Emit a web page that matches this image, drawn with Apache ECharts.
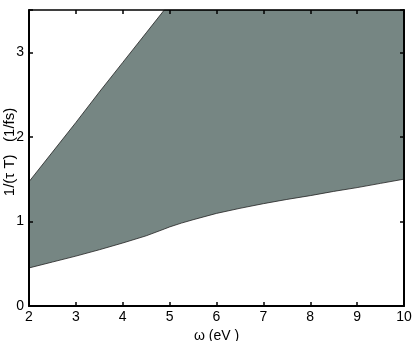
<!DOCTYPE html>
<html>
<head>
<meta charset="utf-8">
<script src="https://cdn.jsdelivr.net/npm/echarts@6/dist/echarts.min.js"></script>
<style>html,body{margin:0;padding:0;background:#fff;}#c{width:415px;height:341px;}</style>
</head>
<body>
<div id="c"></div>
<script>
var omega = [2, 2.5, 3, 3.5, 4, 4.5, 4.885, 5, 5.25, 5.5, 6, 6.5, 7, 7.5, 8, 8.5, 9, 9.5, 10];
var upperBound = [1.47, 1.82, 2.17, 2.53, 2.88, 3.23, 3.5, 3.5, 3.5, 3.5, 3.5, 3.5, 3.5, 3.5, 3.5, 3.5, 3.5, 3.5, 3.5];
var lowerBound = [0.45, 0.52, 0.59, 0.665, 0.745, 0.83, 0.91, 0.935, 0.98, 1.02, 1.095, 1.155, 1.21, 1.26, 1.305, 1.355, 1.40, 1.45, 1.50];
var xTicks = [2, 3, 4, 5, 6, 7, 8, 9, 10];
var yTicks = [0, 1, 2, 3];
var xTitle = 'ω (eV )';
var yTitle = '1/(τ T)   (1/fs)';

var font = 'Liberation Sans, Arial, sans-serif';
function pairs(ys) { return omega.map(function (x, i) { return [x, ys[i]]; }); }

var chart = echarts.init(document.getElementById('c'));
var axisCommon = {
  type: 'value', z: 10,
  axisLine: { show: true, onZero: false, lineStyle: { color: '#000', width: 2 } },
  axisTick: { show: true, inside: true, length: 4, lineStyle: { color: '#000', width: 1.5 } },
  splitLine: { show: false }
};
chart.setOption({
  animation: false,
  grid: { left: 29, right: 11, top: 10, bottom: 35, containLabel: false, outerBoundsMode: 'none' },
  graphic: [{
    type: 'text', x: 10, y: 152, rotation: Math.PI / 2,
    style: { text: yTitle, fill: '#000', font: '15px ' + font, align: 'center', verticalAlign: 'middle' }
  }],
  xAxis: [
    Object.assign({}, axisCommon, {
      min: 2, max: 10, interval: 1, position: 'bottom',
      axisLabel: { color: '#000', fontFamily: font, fontSize: 14, margin: 4 },
      name: xTitle, nameLocation: 'middle', nameGap: 21,
      nameTextStyle: { color: '#000', fontFamily: font, fontSize: 14 }
    }),
    Object.assign({}, axisCommon, {
      min: 2, max: 10, interval: 1, position: 'top',
      axisLine: { show: true, onZero: false, lineStyle: { color: '#000', width: 1.5 } },
      axisLabel: { show: false }
    })
  ],
  yAxis: [
    Object.assign({}, axisCommon, {
      min: 0, max: 3.5, interval: 1, position: 'left',
      axisLabel: { color: '#000', fontFamily: font, fontSize: 14, margin: 5,
        formatter: function (v) { return yTicks.indexOf(v) >= 0 ? String(v) : ''; } }
    }),
    Object.assign({}, axisCommon, {
      min: 0, max: 3.5, interval: 1, position: 'right',
      axisLine: { show: true, onZero: false, lineStyle: { color: '#000', width: 2 } },
      axisLabel: { show: false }
    })
  ],
  series: [
    {
      type: 'line', name: 'upper', data: pairs(upperBound), symbol: 'none', z: 2,
      lineStyle: { color: '#222', width: 0.8 },
      areaStyle: { color: '#768683', opacity: 1, origin: 'start' }
    },
    {
      type: 'line', name: 'lower', data: pairs(lowerBound), symbol: 'none', z: 3,
      lineStyle: { color: '#222', width: 0.8 },
      areaStyle: { color: '#ffffff', opacity: 1, origin: 'start' }
    }
  ]
});
</script>
</body>
</html>
